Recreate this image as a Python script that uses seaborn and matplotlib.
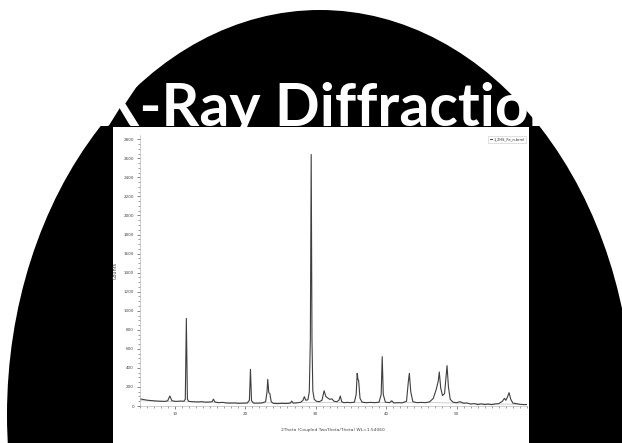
import matplotlib
matplotlib.use("Agg")
import matplotlib.pyplot as plt
from matplotlib.patches import Ellipse, Rectangle
from matplotlib.ticker import MultipleLocator
import seaborn as sns
import pandas as pd

# ---- data ----
two_theta = [5.0, 5.3, 5.7, 6.2, 6.8, 7.4, 8.0, 8.6, 9.0, 9.3, 9.6, 10.2, 10.8, 11.3, 11.5, 11.65, 11.8, 12.0,
             12.6, 13.2, 13.8, 14.4, 15.0, 15.3, 15.5, 15.7, 16.2, 16.8, 17.3, 17.9, 18.5, 19.1, 19.7, 20.3,
             20.6, 20.75, 20.9, 21.2, 21.8, 22.4, 22.9, 23.1, 23.2, 23.35, 23.5, 23.7, 24.0, 24.6, 25.2, 25.8,
             26.4, 26.6, 26.8, 27.3, 27.9, 28.2, 28.4, 28.6, 28.9, 29.1, 29.25, 29.37, 29.48, 29.6, 29.8, 30.1,
             30.5, 30.9, 31.2, 31.45, 31.7, 32.0, 32.3, 32.6, 33.0, 33.3, 33.5, 33.7, 34.0, 34.5, 35.0, 35.5,
             35.75, 35.9, 36.0, 36.1, 36.3, 36.6, 37.2, 37.8, 38.4, 39.0, 39.3, 39.45, 39.6, 39.9, 40.5, 40.8,
             41.1, 41.7, 42.3, 42.9, 43.15, 43.3, 43.5, 43.8, 44.4, 45.0, 45.6, 46.2, 46.7, 47.1, 47.4, 47.55,
             47.75, 48.0, 48.3, 48.5, 48.65, 48.85, 49.1, 49.5, 50.0, 50.5, 51.0, 51.5, 52.0, 52.5, 53.0, 53.5,
             54.0, 54.5, 55.0, 55.5, 56.0, 56.5, 56.8, 57.0, 57.2, 57.45, 57.7, 58.0, 58.5, 59.0, 59.5, 60.0]
counts = [75, 72, 66, 60, 56, 52, 50, 48, 55, 105, 55, 48, 52, 50, 70, 920, 70, 48,
          45, 42, 45, 40, 42, 45, 72, 42, 35, 38, 32, 30, 32, 28, 30, 32,
          60, 385, 55, 30, 30, 32, 45, 150, 280, 140, 130, 45, 28, 25, 28, 26,
          30, 52, 30, 32, 40, 60, 98, 60, 65, 150, 700, 2640, 700, 160, 70, 50,
          45, 60, 160, 100, 85, 70, 75, 50, 45, 60, 105, 45, 35, 38, 35, 40,
          120, 343, 280, 270, 80, 40, 35, 38, 35, 40, 120, 518, 120, 40, 35, 55,
          32, 35, 33, 50, 250, 343, 150, 45, 35, 38, 35, 45, 80, 170, 260, 357,
          190, 110, 130, 300, 424, 200, 70, 40, 35, 45, 30, 32, 20, 25, 15, 22,
          15, 20, 14, 22, 25, 50, 80, 60, 90, 140, 70, 30, 25, 18, 15, 15]
assert len(two_theta) == len(counts)

background_theta = [5, 20, 30, 45, 60]
background_counts = [55, 32, 38, 38, 15]

y_ticks = [0, 200, 400, 600, 800, 1000, 1200, 1400, 1600, 1800, 2000, 2200, 2400, 2600, 2800]
x_ticks = [10, 20, 30, 40, 50]

title = "X-Ray Diffraction"
x_label = "2Theta (Coupled TwoTheta/Theta) WL=1.54060"
y_label = "Counts"
series_name = "1_2HS_Fe_n.brml"

df = pd.DataFrame({"2theta": two_theta, "counts": counts})
bg_df = pd.DataFrame({"2theta": background_theta, "counts": background_counts})

sns.set_style("white")
plt.rcParams["font.family"] = ["DejaVu Sans"]

W, H = 622, 443
fig = plt.figure(figsize=(W / 100, H / 100), dpi=100)
fig.patch.set_facecolor("white")

# slide background
bg = fig.add_axes([0, 0, 1, 1])
bg.set_xlim(0, W)
bg.set_ylim(H, 0)
bg.axis("off")
bg.add_patch(Ellipse((320, 415), width=626, height=810, facecolor="black", edgecolor="none", zorder=1))
bg.add_patch(Rectangle((113, 127), 416, 330, facecolor="white", edgecolor="none", zorder=2))
bg.text(331, 126, title, color="white", fontsize=42.5, fontweight="bold", family=["Lato", "DejaVu Sans"],
        ha="center", va="baseline", zorder=3)

# chart
left, right, top, bottom = 139.5, 527, 135, 406
ax = fig.add_axes([left / W, 1 - bottom / H, (right - left) / W, (bottom - top) / H])
ax.set_facecolor("white")
sns.lineplot(data=bg_df, x="2theta", y="counts", ax=ax, color="#c8c8c8", linewidth=0.6,
             estimator=None, sort=False)
sns.lineplot(data=df, x="2theta", y="counts", ax=ax, color="#3f3f3f", linewidth=0.8,
             estimator=None, sort=False, label=series_name)
ax.set_xlim(5, 60)
ax.set_ylim(0, 2845)
ax.set_xticks(x_ticks)
ax.set_yticks(y_ticks)
ax.xaxis.set_minor_locator(MultipleLocator(1))
ax.yaxis.set_minor_locator(MultipleLocator(50))
ax.tick_params(axis="both", which="major", direction="out", length=2.5, width=0.5, color="#555555",
               labelsize=3, labelcolor="#444444", pad=1.5)
ax.tick_params(axis="both", which="minor", direction="out", length=1.2, width=0.5, color="#777777")
ax.tick_params(left=True, bottom=True, which="both")
for side in ["top", "right"]:
    ax.spines[side].set_visible(False)
for side in ["left", "bottom"]:
    ax.spines[side].set_color("#aaaaaa")
    ax.spines[side].set_linewidth(0.4)
ax.set_xlabel(x_label, fontsize=3.2, color="#444444", labelpad=9)
ax.set_ylabel(y_label, fontsize=3.5, color="#444444", labelpad=4)
leg = ax.legend(loc="upper right", fontsize=2.6, frameon=True, handlelength=0.6, handletextpad=0.4,
                borderpad=0.4, fancybox=False, borderaxespad=0.3)
leg.get_frame().set_edgecolor("#bbbbbb")
leg.get_frame().set_linewidth(0.4)

fig.savefig("out.png", dpi=100, facecolor="white")
